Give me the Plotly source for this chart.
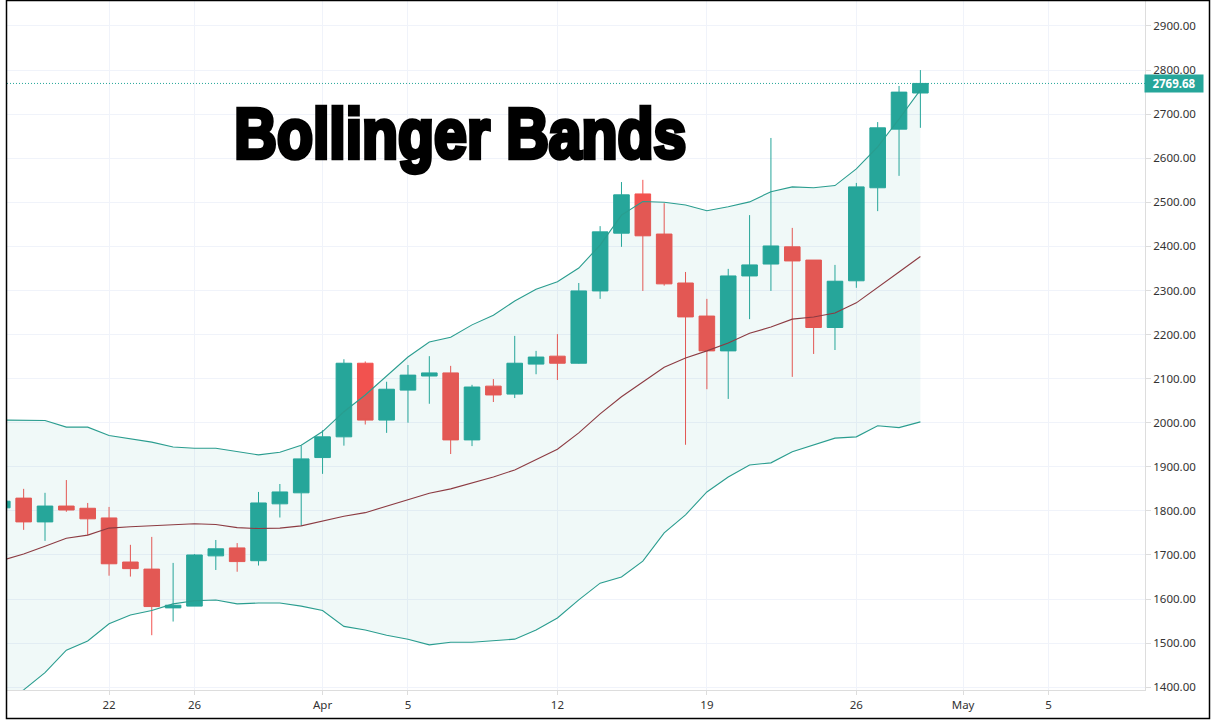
"""
Bollinger Bands candlestick chart, TradingView look.
"""

import pandas as pd
import plotly.graph_objects as go

# ── Data ─────────────────────────────────────────────────────────────────────
dates = pd.date_range("2021-03-17", "2021-04-29", freq="D")

opens = [1807, 1829, 1775, 1811, 1806, 1784, 1684, 1668, 1580, 1584, 1698, 1716, 1687, 1816, 1841, 1921,
         1968, 2135, 2006, 2074, 2106, 2113, 1961, 2083, 2065, 2133, 2151, 2135, 2299, 2430, 2519, 2428,
         2317, 2242, 2163, 2333, 2360, 2399, 2369, 2216, 2322, 2533, 2666, 2748]
highs = [1835, 1850, 1841, 1870, 1818, 1809, 1723, 1741, 1682, 1702, 1734, 1727, 1843, 1861, 1948, 1983,
         2144, 2139, 2093, 2131, 2151, 2129, 2086, 2099, 2197, 2163, 2201, 2317, 2446, 2546, 2551, 2498,
         2342, 2281, 2349, 2471, 2646, 2442, 2369, 2358, 2544, 2682, 2764, 2800]
lows = [1795, 1757, 1732, 1798, 1745, 1653, 1651, 1518, 1549, 1584, 1666, 1662, 1676, 1785, 1766, 1884,
        1948, 1996, 1977, 2000, 2043, 1929, 1947, 2047, 2056, 2110, 2097, 2134, 2281, 2399, 2299, 2311,
        1950, 2076, 2054, 2235, 2299, 2104, 2156, 2165, 2306, 2480, 2560, 2669]
closes = [1822, 1775, 1811, 1802, 1782, 1680, 1669, 1583, 1586, 1700, 1714, 1685, 1818, 1843, 1918, 1968,
          2135, 2006, 2076, 2108, 2113, 1961, 2081, 2063, 2135, 2149, 2135, 2299, 2433, 2517, 2424, 2315,
          2240, 2163, 2333, 2358, 2401, 2367, 2216, 2321, 2535, 2669, 2750, 2769.68]

band_upper = [2006, 2005, 2005, 1990, 1990, 1971, 1963, 1956, 1945, 1942, 1942, 1935, 1927, 1933, 1949, 1980,
              2025, 2063, 2105, 2149, 2183, 2194, 2222, 2244, 2276, 2303, 2320, 2351, 2403, 2471, 2502, 2500,
              2494, 2481, 2490, 2501, 2524, 2535, 2533, 2538, 2576, 2626, 2689, 2755]
band_mid = [1688, 1702, 1720, 1738, 1745, 1761, 1764, 1766, 1769, 1771, 1769, 1762, 1760, 1761, 1766, 1777,
            1788, 1796, 1811, 1825, 1840, 1850, 1863, 1877, 1893, 1917, 1940, 1977, 2020, 2059, 2093, 2126,
            2147, 2163, 2181, 2203, 2217, 2235, 2240, 2249, 2272, 2308, 2342, 2377]
band_lower = [1360, 1394, 1433, 1484, 1505, 1544, 1564, 1574, 1589, 1596, 1598, 1589, 1591, 1591, 1584, 1574,
              1538, 1530, 1518, 1509, 1496, 1502, 1502, 1505, 1509, 1530, 1557, 1598, 1636, 1650, 1686, 1750,
              1791, 1843, 1877, 1904, 1909, 1934, 1949, 1965, 1968, 1993, 1989, 2002]

x_tickvals = ["2021-03-22", "2021-03-26", "2021-04-01", "2021-04-05", "2021-04-12",
              "2021-04-19", "2021-04-26", "2021-05-01", "2021-05-05"]
x_ticktext = ["22", "26", "Apr", "5", "12", "19", "26", "May", "5"]
y_tickvals = list(range(1400, 3000, 100))
y_ticktext = [f"{v}.00" for v in y_tickvals]

last_price = 2769.68

# ── Colours and sizes ────────────────────────────────────────────────────────
GREEN = "#26A69A"
RED = "#F2524F"
BAND = "#2A9D8F"
MID = "#8C3B42"
FILL = "rgba(38,166,154,0.07)"
GRID = "#F0F3FA"
AXIS = "#DDDDDD"
TEXT = "#333333"
FONT = "Noto Sans, sans-serif"

W, H = 1216, 725
M_L, M_R, M_T, M_B = 7, 71, 1, 35
PLOT_W = W - M_L - M_R
PLOT_H = H - M_T - M_B


def px_x(px):
    return (px - M_L) / PLOT_W


def px_y(px):
    return 1 - (px - M_T) / PLOT_H


# ── Figure ───────────────────────────────────────────────────────────────────
fig = go.Figure()

fig.add_trace(go.Scatter(x=dates, y=band_lower, mode="lines",
                         line=dict(color=BAND, width=1.1), hoverinfo="skip"))
fig.add_trace(go.Scatter(x=dates, y=band_upper, mode="lines", fill="tonexty", fillcolor=FILL,
                         line=dict(color=BAND, width=1.1), hoverinfo="skip"))
fig.add_trace(go.Scatter(x=dates, y=band_mid, mode="lines",
                         line=dict(color=MID, width=1.1), hoverinfo="skip"))

fig.add_trace(go.Candlestick(
    x=dates, open=opens, high=highs, low=lows, close=closes,
    increasing=dict(line=dict(color=GREEN, width=1), fillcolor=GREEN),
    decreasing=dict(line=dict(color=RED, width=1), fillcolor=RED),
    whiskerwidth=0,
))

fig.update_layout(
    width=W, height=H,
    margin=dict(l=M_L, r=M_R, t=M_T, b=M_B),
    paper_bgcolor="white",
    plot_bgcolor="white",
    showlegend=False,
    boxgap=0.27,
    boxgroupgap=0,
    font=dict(family=FONT, size=12, color=TEXT),
)

fig.update_xaxes(
    type="date",
    range=["2021-03-17 05:17", "2021-05-09 12:29"],
    rangeslider_visible=False,
    tickmode="array", tickvals=x_tickvals, ticktext=x_ticktext,
    tickfont=dict(family=FONT, size=11.5, color=TEXT),
    ticks="outside", ticklen=4, tickcolor=AXIS,
    showgrid=True, gridcolor=GRID, gridwidth=1,
    showline=True, linecolor=AXIS, linewidth=1,
    zeroline=False,
)
fig.update_yaxes(
    side="right",
    range=[1393.7, 2956.7],
    tickmode="array", tickvals=y_tickvals, ticktext=y_ticktext,
    tickfont=dict(family=FONT, size=11.5, color=TEXT),
    ticks="outside", ticklen=5, tickcolor=AXIS,
    showgrid=True, gridcolor=GRID, gridwidth=1,
    showline=True, linecolor=AXIS, linewidth=1,
    zeroline=False,
)

# Last price line and label
fig.add_shape(type="line", xref="x domain", yref="y", x0=0, x1=1, y0=last_price, y1=last_price,
              line=dict(color=GREEN, width=1, dash="1px,2px"))
fig.add_annotation(
    xref="paper", yref="y", x=1, y=last_price, xanchor="left", yanchor="middle",
    text=f"<b>{last_price:.2f}</b>", showarrow=False,
    font=dict(family=FONT, size=11.5, color="white"),
    bgcolor=GREEN, width=56, height=15, align="center", borderpad=1, xshift=-1,
)

# Big title over the chart
fig.add_annotation(
    xref="paper", yref="paper", x=px_x(460), y=px_y(134), xanchor="center", yanchor="middle",
    text="<b>Bollinger Bands</b>", showarrow=False,
    font=dict(family="Liberation Sans, sans-serif", size=70, color="black"),
)

# The axis pane cuts the lowest price label
fig.add_shape(type="rect", xref="paper", yref="paper", layer="above",
              x0=px_x(1152), x1=px_x(1203), y0=px_y(696), y1=px_y(691),
              line=dict(width=0), fillcolor="white")

# Black frame round the picture
fig.add_shape(type="rect", xref="paper", yref="paper", layer="above",
              x0=px_x(6.5), x1=px_x(1209.5), y0=px_y(718.5), y1=px_y(0.5),
              line=dict(color="black", width=1.5), fillcolor="rgba(0,0,0,0)")

# No condensed heavy font here: squeeze the title text to the width it has in the picture
squeeze_title = """
document.body.style.margin = '0';
document.querySelectorAll('.annotation-text').forEach(function (t) {
    if (t.textContent.indexOf('Bollinger') === 0) {
        t.setAttribute('textLength', '452');
        t.setAttribute('lengthAdjust', 'spacingAndGlyphs');
        t.style.stroke = '#000';
        t.style.strokeWidth = '4.5px';
        t.style.strokeLinejoin = 'miter';
    }
});
"""

fig.write_html("out.html", config={"displayModeBar": False}, post_script=squeeze_title)
